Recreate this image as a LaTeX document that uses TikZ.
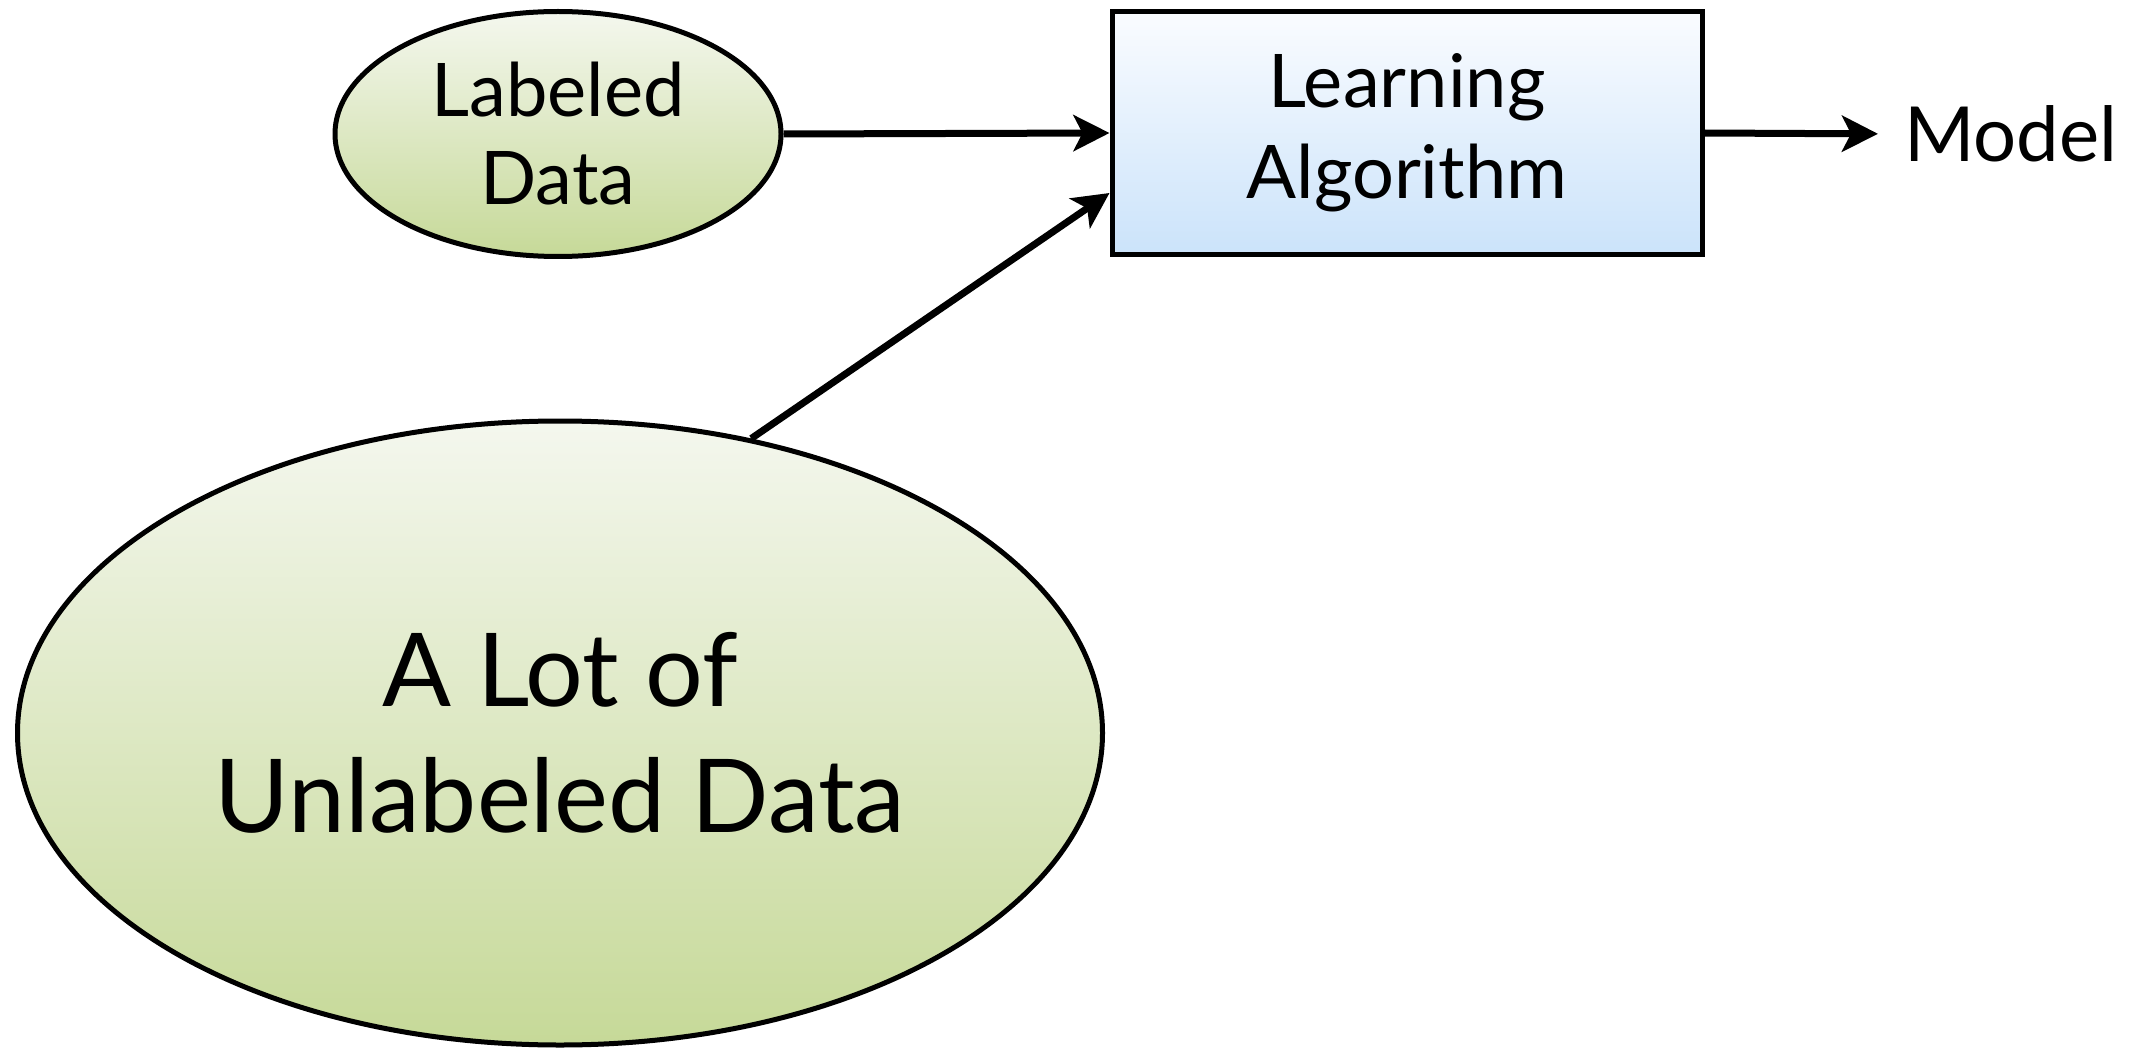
\documentclass[tikz,border=0pt]{standalone}
\usepackage{fontspec}
\setmainfont{Lato}
\usetikzlibrary{arrows.meta,shapes.geometric}

\definecolor{greentop}{HTML}{F4F7EE}
\definecolor{greenbot}{HTML}{C6D998}
\definecolor{bluetop}{HTML}{FAFCFF}
\definecolor{bluebot}{HTML}{CBE3FA}

\tikzset{
  databox/.style={ellipse, draw=black, line width=5pt, inner sep=0pt,
    top color=greentop, bottom color=greenbot, align=center},
  algobox/.style={rectangle, draw=black, line width=5pt, inner sep=0pt,
    top color=bluetop, bottom color=bluebot, align=center},
  flow/.style={line width=7pt, -{Stealth[length=36pt, width=36pt, inset=9pt]}},
}

\begin{document}
\begin{tikzpicture}[x=1pt, y=-1pt]
  \useasboundingbox (0,0) rectangle (2130,1048);

  % inputs
  \node[databox, minimum width=446pt, minimum height=245pt,
        font=\fontsize{74}{88}\selectfont] (lab) at (558,134) {Labeled\\Data};
  \node[databox, minimum width=1085pt, minimum height=624pt,
        font=\fontsize{102}{126}\selectfont] (unl) at (560,733) {A Lot of\\Unlabeled Data};

  % learner
  \node[algobox, minimum width=590pt, minimum height=243pt,
        font=\fontsize{74}{91}\selectfont] (alg) at (1407,133) {Learning\\Algorithm};

  % output
  \node[anchor=west, inner sep=0pt, font=\fontsize{76}{90}\selectfont] (model) at (1904,134) {Model};

  % connectors
  \draw[flow] (lab.east) -- (alg.west);
  \draw[flow] (unl.57) -- ([yshift=-60pt]alg.west);
  \draw[flow, shorten >=26pt] (alg.east) -- (model.west);
\end{tikzpicture}
\end{document}
